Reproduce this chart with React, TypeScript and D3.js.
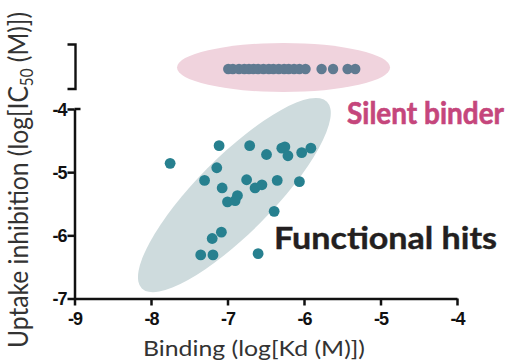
import React, { useEffect, useRef } from "react";
import * as d3 from "d3";

const xTicks = [-9, -8, -7, -6, -5, -4];
const yTicks = [-4, -5, -6, -7];

// functional hits: binding log Kd vs uptake inhibition log IC50
const hitKd = [
  -7.75, -7.11, -6.71, -6.49, -6.29, -6.25, -6.21, -6.03, -5.91, -7.14, -7.3, -7.07, -6.75,
  -6.64, -6.55, -6.35, -6.06, -6.87, -7.0, -6.9, -6.39, -7.08, -7.2, -7.35, -7.19, -6.6,
];
const hitIC50 = [
  -4.86, -4.58, -4.58, -4.72, -4.62, -4.6, -4.74, -4.69, -4.62, -4.93, -5.13, -5.25, -5.12,
  -5.25, -5.2, -5.13, -5.15, -5.37, -5.47, -5.45, -5.62, -5.95, -6.05, -6.31, -6.31, -6.29,
];

// silent binders: bind but no uptake inhibition (plotted above the axis break)
const silentKd = [
  -6.99, -6.93, -6.85, -6.78, -6.72, -6.66, -6.6, -6.53, -6.46, -6.4, -6.33, -6.26, -6.2,
  -6.13, -6.06, -5.98, -5.77, -5.62, -5.43, -5.33,
];

export default function App() {
  const ref = useRef<SVGSVGElement>(null);

  useEffect(() => {
    const svg = d3.select(ref.current);
    svg.selectAll("*").remove();

    const x = d3.scaleLinear().domain([-9, -4]).range([74.5, 457]);
    const y = d3.scaleLinear().domain([-7, -4]).range([298.5, 109]);
    const axisColor = "#111";
    const tickFont = "'Liberation Sans', Arial, sans-serif";
    const labelFont = "Lato, 'Open Sans', sans-serif";

    // silent binder cloud
    const silentY = 67.5;
    svg.append("ellipse")
      .attr("cx", (x(-7.66) + x(-4.875)) / 2)
      .attr("cy", silentY)
      .attr("rx", (x(-4.875) - x(-7.66)) / 2)
      .attr("ry", 24.5)
      .attr("fill", "#f0d3dd");

    // functional hits cloud, drawn between its two tips (data units)
    const a = [x(-8.12), y(-6.84)];
    const b = [x(-5.7), y(-3.885)];
    const angle = (Math.atan2(b[1] - a[1], b[0] - a[0]) * 180) / Math.PI;
    const len = Math.hypot(b[0] - a[0], b[1] - a[1]);
    svg.append("ellipse")
      .attr("transform", `translate(${(a[0] + b[0]) / 2},${(a[1] + b[1]) / 2}) rotate(${angle})`)
      .attr("rx", len / 2)
      .attr("ry", 38)
      .attr("fill", "#cedbdd");

    // points
    svg.append("g")
      .selectAll("circle")
      .data(silentKd)
      .join("circle")
      .attr("cx", d => x(d))
      .attr("cy", silentY + 1.5)
      .attr("r", 5.2)
      .attr("fill", "#5f7a91");

    svg.append("g")
      .selectAll("circle")
      .data(hitKd)
      .join("circle")
      .attr("cx", d => x(d))
      .attr("cy", (d, i) => y(hitIC50[i]))
      .attr("r", 5.4)
      .attr("fill", "#27808f");

    const styleTicks = (sel: any) => sel
      .attr("fill", axisColor)
      .attr("font-family", tickFont)
      .attr("font-size", 18)
      .attr("font-weight", 700)
      .style("letter-spacing", "-1px");

    // x axis
    const gx = svg.append("g")
      .attr("transform", `translate(0,${y(-7)})`)
      .call(d3.axisBottom(x).tickValues(xTicks).tickSize(7).tickSizeOuter(0).tickFormat(d => String(d)));
    gx.attr("font-family", null).attr("font-size", null);
    gx.select(".domain").attr("stroke", axisColor).attr("stroke-width", 2.5);
    gx.selectAll(".tick line").attr("stroke", axisColor).attr("stroke-width", 2.5);
    gx.selectAll(".tick text").attr("y", 26).attr("dy", 0).call(styleTicks);

    // y axis
    const gy = svg.append("g")
      .attr("transform", `translate(${x(-9)},0)`)
      .call(d3.axisLeft(y).tickValues(yTicks).tickSize(7).tickSizeOuter(0).tickFormat(d => String(d)));
    gy.attr("font-family", null).attr("font-size", null);
    gy.select(".domain").attr("stroke", axisColor).attr("stroke-width", 2.5);
    gy.selectAll(".tick line").attr("stroke", axisColor).attr("stroke-width", 2.5);
    gy.selectAll(".tick text").attr("x", -8).attr("dy", "0.36em").call(styleTicks);
    gy.append("line")
      .attr("x1", 0).attr("x2", 6)
      .attr("y1", y(-4)).attr("y2", y(-4))
      .attr("stroke", axisColor).attr("stroke-width", 2.5);

    // axis break bracket for the "no inhibition" row
    svg.append("path")
      .attr("d", `M${x(-9) - 7},44.5H${x(-9) + 1}V89H${x(-9) - 7}`)
      .attr("fill", "none")
      .attr("stroke", axisColor)
      .attr("stroke-width", 2.4);

    // axis titles
    svg.append("text")
      .attr("x", 143).attr("y", 356)
      .attr("textLength", 222).attr("lengthAdjust", "spacingAndGlyphs")
      .attr("fill", "#333")
      .style("font", `22px ${labelFont}`)
      .text("Binding (log[Kd (M)])");

    const yt = svg.append("text")
      .attr("transform", "translate(28,348) rotate(-90) scale(1,1.3)")
      .attr("textLength", 336).attr("lengthAdjust", "spacingAndGlyphs")
      .attr("fill", "#333")
      .style("font", `21px ${labelFont}`);
    yt.append("tspan").text("Uptake inhibition (log[IC");
    yt.append("tspan").attr("dy", 4).style("font-size", "13px").text("50");
    yt.append("tspan").attr("dy", -4).text(" (M)])");

    // annotations
    svg.append("text")
      .attr("x", 347).attr("y", 123.5)
      .attr("textLength", 157).attr("lengthAdjust", "spacingAndGlyphs")
      .attr("fill", "#c5467c")
      .attr("stroke", "#c5467c").attr("stroke-width", 0.6)
      .style("font", `bold 30px ${labelFont}`)
      .text("Silent binder");

    svg.append("text")
      .attr("x", 274).attr("y", 248.5)
      .attr("textLength", 223).attr("lengthAdjust", "spacingAndGlyphs")
      .attr("fill", "#231f20")
      .attr("stroke", "#231f20").attr("stroke-width", 0.4)
      .style("font", `bold 30px ${labelFont}`)
      .text("Functional hits");
  }, []);

  return (
    <svg
      ref={ref}
      width={515}
      height={363}
      style={{ position: "absolute", left: 0, top: 0, background: "#fff" }}
    />
  );
}
